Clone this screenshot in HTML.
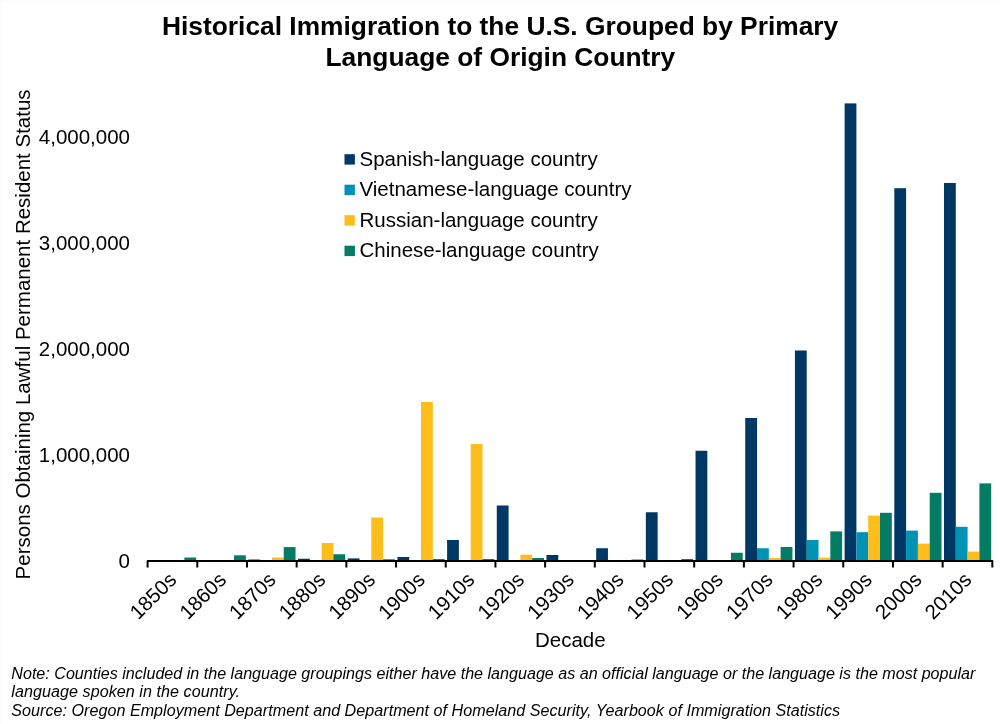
<!DOCTYPE html>
<html lang="en">
<head>
<meta charset="utf-8">
<title>Historical Immigration to the U.S. Grouped by Primary Language of Origin Country</title>
<style>
html,body{margin:0;padding:0;background:#fff;}
body{width:1000px;height:724px;overflow:hidden;}
svg{display:block;font-family:"Liberation Sans",Arial,Helvetica,sans-serif;fill:#000;}
.t{font-weight:bold;font-size:26.35px;text-anchor:middle;}
.a{font-size:20.5px;}
.n{font-size:16.12px;font-style:italic;}
</style>
</head>
<body>
<svg width="1000" height="724" viewBox="0 0 1000 724">
<rect x="0" y="0" width="1000" height="724" fill="#ffffff"/>
<path d="M0 0.5H1000M0.5 0V724" stroke="#fcfcfc" stroke-width="1" fill="none"/>
<text class="t" x="500.1" y="35.2">Historical Immigration to the U.S. Grouped by Primary</text>
<text class="t" x="500.4" y="65.7">Language of Origin Country</text>
<text class="a" text-anchor="middle" transform="translate(30.3 334.4) rotate(-90)">Persons Obtaining Lawful Permanent Resident Status</text>
<text class="a" text-anchor="end" x="130.0" y="568.40">0</text>
<text class="a" text-anchor="end" x="130.0" y="462.40">1,000,000</text>
<text class="a" text-anchor="end" x="130.0" y="356.40">2,000,000</text>
<text class="a" text-anchor="end" x="130.0" y="250.40">3,000,000</text>
<text class="a" text-anchor="end" x="130.0" y="144.40">4,000,000</text>
<g fill="#003865">
<rect x="248.33" y="559.50" width="11.8" height="1.50"/>
<rect x="298.02" y="558.75" width="11.8" height="2.25"/>
<rect x="347.71" y="558.40" width="11.8" height="2.60"/>
<rect x="397.40" y="557.00" width="11.8" height="4.00"/>
<rect x="447.09" y="540.00" width="11.8" height="21.00"/>
<rect x="496.78" y="505.50" width="11.8" height="55.50"/>
<rect x="546.47" y="555.00" width="11.8" height="6.00"/>
<rect x="596.16" y="548.25" width="11.8" height="12.75"/>
<rect x="645.85" y="512.25" width="11.8" height="48.75"/>
<rect x="695.54" y="450.75" width="11.8" height="110.25"/>
<rect x="745.23" y="418.00" width="11.8" height="143.00"/>
<rect x="794.92" y="350.50" width="11.8" height="210.50"/>
<rect x="844.61" y="103.40" width="11.8" height="457.60"/>
<rect x="894.30" y="188.20" width="11.8" height="372.80"/>
<rect x="943.99" y="183.00" width="11.8" height="378.00"/>
</g>
<g fill="#0093B5">
<rect x="757.03" y="548.25" width="11.8" height="12.75"/>
<rect x="806.72" y="540.00" width="11.8" height="21.00"/>
<rect x="856.41" y="532.20" width="11.8" height="28.80"/>
<rect x="906.10" y="530.60" width="11.8" height="30.40"/>
<rect x="955.79" y="526.80" width="11.8" height="34.20"/>
</g>
<g fill="#FDBE1B">
<rect x="271.93" y="557.50" width="11.8" height="3.50"/>
<rect x="321.62" y="543.00" width="11.8" height="18.00"/>
<rect x="371.31" y="517.50" width="11.8" height="43.50"/>
<rect x="421.00" y="402.00" width="11.8" height="159.00"/>
<rect x="470.69" y="444.00" width="11.8" height="117.00"/>
<rect x="520.38" y="554.75" width="11.8" height="6.25"/>
<rect x="768.83" y="558.00" width="11.8" height="3.00"/>
<rect x="818.52" y="557.60" width="11.8" height="3.40"/>
<rect x="868.21" y="515.60" width="11.8" height="45.40"/>
<rect x="917.90" y="543.60" width="11.8" height="17.40"/>
<rect x="967.59" y="551.60" width="11.8" height="9.40"/>
</g>
<g fill="#037C63">
<rect x="184.35" y="557.50" width="11.8" height="3.50"/>
<rect x="234.04" y="555.30" width="11.8" height="5.70"/>
<rect x="283.73" y="547.10" width="11.8" height="13.90"/>
<rect x="333.42" y="554.25" width="11.8" height="6.75"/>
<rect x="383.11" y="559.25" width="11.8" height="1.75"/>
<rect x="432.80" y="559.00" width="11.8" height="2.00"/>
<rect x="482.49" y="559.00" width="11.8" height="2.00"/>
<rect x="532.18" y="558.00" width="11.8" height="3.00"/>
<rect x="631.56" y="559.50" width="11.8" height="1.50"/>
<rect x="681.25" y="559.00" width="11.8" height="2.00"/>
<rect x="730.94" y="552.75" width="11.8" height="8.25"/>
<rect x="780.63" y="547.00" width="11.8" height="14.00"/>
<rect x="830.32" y="531.40" width="11.8" height="29.60"/>
<rect x="880.01" y="512.80" width="11.8" height="48.20"/>
<rect x="929.70" y="492.80" width="11.8" height="68.20"/>
<rect x="979.39" y="483.40" width="11.8" height="77.60"/>
</g>
<g stroke="#000" stroke-width="2" fill="none" stroke-linejoin="round">
<path d="M147.6 567.5V561.0H992.33V567.5"/>
<path d="M197.29 561.0V567.5M246.98 561.0V567.5M296.67 561.0V567.5M346.36 561.0V567.5M396.05 561.0V567.5M445.74 561.0V567.5M495.43 561.0V567.5M545.12 561.0V567.5M594.81 561.0V567.5M644.50 561.0V567.5M694.19 561.0V567.5M743.88 561.0V567.5M793.57 561.0V567.5M843.26 561.0V567.5M892.95 561.0V567.5M942.64 561.0V567.5"/>
</g>
<text class="a" text-anchor="end" transform="translate(177.70 581.1) rotate(-45)">1850s</text>
<text class="a" text-anchor="end" transform="translate(227.39 581.1) rotate(-45)">1860s</text>
<text class="a" text-anchor="end" transform="translate(277.08 581.1) rotate(-45)">1870s</text>
<text class="a" text-anchor="end" transform="translate(326.77 581.1) rotate(-45)">1880s</text>
<text class="a" text-anchor="end" transform="translate(376.46 581.1) rotate(-45)">1890s</text>
<text class="a" text-anchor="end" transform="translate(426.15 581.1) rotate(-45)">1900s</text>
<text class="a" text-anchor="end" transform="translate(475.84 581.1) rotate(-45)">1910s</text>
<text class="a" text-anchor="end" transform="translate(525.53 581.1) rotate(-45)">1920s</text>
<text class="a" text-anchor="end" transform="translate(575.22 581.1) rotate(-45)">1930s</text>
<text class="a" text-anchor="end" transform="translate(624.91 581.1) rotate(-45)">1940s</text>
<text class="a" text-anchor="end" transform="translate(674.60 581.1) rotate(-45)">1950s</text>
<text class="a" text-anchor="end" transform="translate(724.29 581.1) rotate(-45)">1960s</text>
<text class="a" text-anchor="end" transform="translate(773.98 581.1) rotate(-45)">1970s</text>
<text class="a" text-anchor="end" transform="translate(823.67 581.1) rotate(-45)">1980s</text>
<text class="a" text-anchor="end" transform="translate(873.36 581.1) rotate(-45)">1990s</text>
<text class="a" text-anchor="end" transform="translate(923.05 581.1) rotate(-45)">2000s</text>
<text class="a" text-anchor="end" transform="translate(972.74 581.1) rotate(-45)">2010s</text>
<text class="a" text-anchor="middle" x="570.3" y="646.8">Decade</text>
<rect x="344.5" y="154.20" width="10.4" height="10.4" fill="#003865"/>
<text class="a" x="359.5" y="165.55">Spanish-language country</text>
<rect x="344.5" y="184.70" width="10.4" height="10.4" fill="#0093B5"/>
<text class="a" x="359.5" y="196.15">Vietnamese-language country</text>
<rect x="344.5" y="215.20" width="10.4" height="10.4" fill="#FDBE1B"/>
<text class="a" x="359.5" y="226.90">Russian-language country</text>
<rect x="344.5" y="245.70" width="10.4" height="10.4" fill="#037C63"/>
<text class="a" x="359.5" y="256.90">Chinese-language country</text>
<text class="n" x="11.3" y="678.5" textLength="964.1">Note: Counties included in the language groupings either have the language as an official language or the language is the most popular</text>
<text class="n" x="11.3" y="697.1" textLength="228.8">language spoken in the country.</text>
<text class="n" x="11.3" y="715.5" textLength="828.8">Source: Oregon Employment Department and Department of Homeland Security, Yearbook of Immigration Statistics</text>
</svg>
</body>
</html>
